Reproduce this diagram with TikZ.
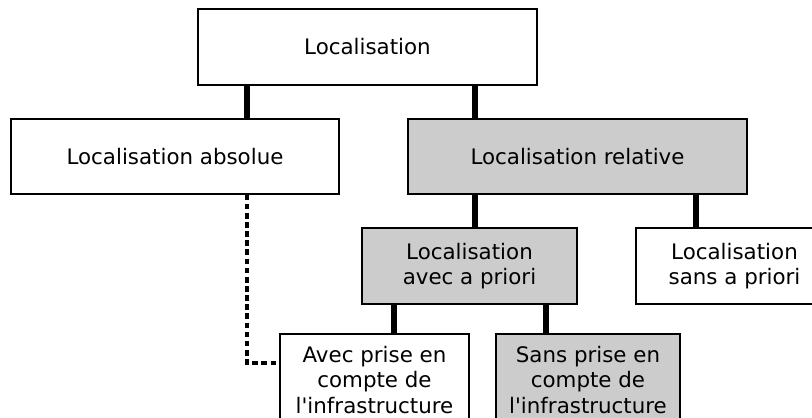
\documentclass[tikz,border=0pt]{standalone}
\usepackage{fontspec}
\setmainfont{DejaVu Sans}
\definecolor{BoxGrey}{RGB}{204,204,204}
\usetikzlibrary{positioning,calc}

\begin{document}
\begin{tikzpicture}[x=0.025cm,y=-0.025cm,
    box/.style={draw,line width=0.9pt,fill=white,align=center,inner sep=0pt,
                font=\fontsize{15.2}{18}\selectfont},
    greybox/.style={box,fill=BoxGrey},
    link/.style={line width=4.8pt},
    weaklink/.style={line width=2.2pt,dash pattern=on 4pt off 2.5pt}]
  %% Frame of the view
  \useasboundingbox (0,0) rectangle (812,418);
  \clip (0,0) rectangle (812,418);
  %% Boxes
  \node[box,minimum width=339*0.025cm,minimum height=76*0.025cm]
       (loc) at (367.5,47) {Localisation};
  \node[box,minimum width=328*0.025cm,minimum height=75*0.025cm]
       (abs) at (175,156.5) {Localisation absolue};
  \node[greybox,minimum width=339*0.025cm,minimum height=75*0.025cm]
       (rel) at (577.5,156.5) {Localisation relative};
  \node[greybox,minimum width=215*0.025cm,minimum height=76*0.025cm]
       (avec) at (469.5,266) {Localisation\\avec a priori};
  \node[box,minimum width=197*0.025cm,minimum height=76*0.025cm]
       (sans) at (734.5,266) {Localisation\\sans a priori};
  \node[box,minimum width=189*0.025cm,minimum height=92*0.025cm]
       (infra) at (374.5,380)
       {Avec prise en\\compte de\\l\textquotesingle infrastructure};
  \node[greybox,minimum width=184*0.025cm,minimum height=92*0.025cm]
       (noinfra) at (588,380)
       {Sans prise en\\compte de\\l\textquotesingle infrastructure};
  %% Links
  \draw[link](loc.south -| 247,0)--(abs.north -| 247,0);
  \draw[link](loc.south -| 475,0)--(rel.north -| 475,0);
  \draw[link](rel.south -| 475,0)--(avec.north -| 475,0);
  \draw[link](rel.south -| 696,0)--(sans.north -| 696,0);
  \draw[link](avec.south -| 394,0)--(infra.north -| 394,0);
  \draw[link](avec.south -| 546,0)--(noinfra.north -| 546,0);
  \draw[weaklink](abs.south -| 247,0)--(247,363)--(infra.west |- 0,363);
\end{tikzpicture}
\end{document}
